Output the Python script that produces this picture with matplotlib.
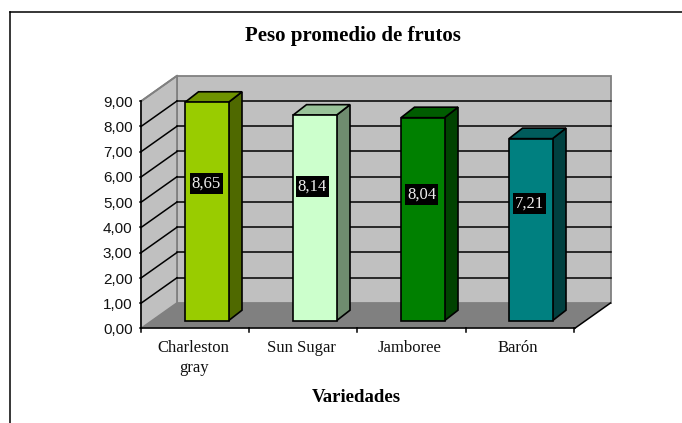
#!/usr/bin/env python3
# -*- coding: utf-8 -*-
"""
Peso promedio de frutos - fake 3D column chart, Excel style
"""

import matplotlib
matplotlib.use('Agg')
import matplotlib.pyplot as plt
from matplotlib.patches import Polygon, Rectangle

# Data
categories = ['Charleston\ngray', 'Sun Sugar', 'Jamboree', 'Barón']
values = [8.65, 8.14, 8.04, 7.21]
labels = ['8,65', '8,14', '8,04', '7,21']
front_colors = ['#99CC00', '#CCFFCC', '#008000', '#008080']
top_colors = ['#6E9200', '#99C299', '#005C00', '#005C5C']
side_colors = ['#4F6900', '#6F8C6F', '#004200', '#004040']
yticks = [0, 1, 2, 3, 4, 5, 6, 7, 8, 9]

W, H = 682, 423
plt.rcParams['font.family'] = ['Liberation Serif', 'DejaVu Serif']

fig = plt.figure(figsize=(W / 100, H / 100), dpi=100)
# Whole figure is one axes; x is pixels, y is in pixels from the top
ax = fig.add_axes([0, 0, 1, 1])
ax.set_xlim(0, W)
ax.set_ylim(H, 0)
ax.axis('off')

# Scale of the chart
x0, y0 = 141, 328.5      # front left corner of floor
unit = 25.25             # pixels for one unit of value
slot = 108.2             # pixels for one category
wall_w = 433.5
dx, dy = 36, -25.5       # depth of the box
bar_w = 43.5
bar_off = 44
bar_slot = 108
bar_dx, bar_dy = 13.5, -10.5
bar_y = 320.7
# Where Excel left the data labels (centre of the black box)
label_x = [206.5, 312.5, 421.6, 529.7]
label_y = [183.3, 186.5, 194.5, 203.5]
box_w, box_h = 33, 21


def val_y(v, base):
    return base - v * unit


# Frame of the chart area, open on the right and at the bottom
ax.plot([9.5, 9.5], [H, 12], color='black', lw=1.1, zorder=1)
ax.plot([9.5, W], [12, 12], color='black', lw=1.1, zorder=1)

top_v = max(yticks)
# Back wall, side wall, floor
ax.add_patch(Polygon([(x0 + dx, y0 + dy), (x0 + dx + wall_w, y0 + dy),
                      (x0 + dx + wall_w, val_y(top_v, y0 + dy)),
                      (x0 + dx, val_y(top_v, y0 + dy))],
                     fc='#C0C0C0', ec='#808080', lw=1.3, zorder=2))
ax.add_patch(Polygon([(x0, y0), (x0 + dx, y0 + dy),
                      (x0 + dx, val_y(top_v, y0 + dy)), (x0, val_y(top_v, y0))],
                     fc='#C0C0C0', ec='#808080', lw=1.3, zorder=2))
ax.add_patch(Polygon([(x0, y0), (x0 + wall_w, y0),
                      (x0 + wall_w + dx, y0 + dy), (x0 + dx, y0 + dy)],
                     fc='#808080', ec='none', zorder=3))

# Gridlines on the walls, last one is the top edge of the box
for t in yticks[1:-1]:
    yb = val_y(t, y0 + dy)
    ax.plot([x0, x0 + dx], [val_y(t, y0), yb], color='black', lw=1.1, zorder=3)
    ax.plot([x0 + dx, x0 + dx + wall_w], [yb, yb], color='black', lw=1.1, zorder=3)
ax.plot([x0, x0 + dx], [val_y(top_v, y0), val_y(top_v, y0 + dy)],
        color='#808080', lw=1.3, zorder=3)

# Axes lines and ticks
ax.plot([x0, x0], [y0, val_y(top_v, y0)], color='black', lw=1.1, zorder=4)
ax.plot([x0, x0 + wall_w], [y0, y0], color='black', lw=1.1, zorder=4)
ax.plot([x0 + wall_w, x0 + wall_w + dx], [y0, y0 + dy], color='black', lw=1.1, zorder=4)
for t in yticks:
    yt = val_y(t, y0)
    ax.plot([x0 - 1.5, x0], [yt, yt], color='black', lw=1.1, zorder=4)
    ax.text(x0 - 8.5, yt + 1.5, '%d,00' % t, ha='right', va='center', fontsize=11,
            family='Liberation Sans', color='#111111', zorder=6)
for i in range(len(categories) + 1):
    xt = x0 + i * slot
    ax.plot([xt, xt], [y0, y0 + 3.5], color='black', lw=1.1, zorder=4)

# Bars
for i, v in enumerate(values):
    xl = x0 + bar_off + i * bar_slot
    xr = xl + bar_w
    yt = val_y(v, bar_y)
    ax.add_patch(Polygon([(xr, bar_y), (xr + bar_dx, bar_y + bar_dy),
                          (xr + bar_dx, yt + bar_dy), (xr, yt)],
                         fc=side_colors[i], ec='black', lw=1.2, zorder=5))
    ax.add_patch(Polygon([(xl, yt), (xr, yt), (xr + bar_dx, yt + bar_dy),
                          (xl + bar_dx, yt + bar_dy)],
                         fc=top_colors[i], ec='black', lw=1.2, zorder=5))
    ax.add_patch(Rectangle((xl, yt), bar_w, bar_y - yt,
                           fc=front_colors[i], ec='black', lw=1.2, zorder=5))
    # Data label
    ax.add_patch(Rectangle((label_x[i] - box_w / 2, label_y[i] - box_h / 2), box_w, box_h,
                           fc='black', ec='none', zorder=6))
    ax.text(label_x[i], label_y[i], labels[i], color='#EEEEEE',
            ha='center', va='center', fontsize=12, zorder=7)
    # Category label
    ax.text(x0 + (i + 0.5) * slot - 1.5, y0 + 11, categories[i], ha='center', va='top',
            fontsize=12, linespacing=1.38, color='#111111', zorder=6)

# Titles
ax.text(352.5, 36.5, 'Peso promedio de frutos', ha='center', va='center',
        fontsize=15, fontweight='bold')
ax.text(356, 397, 'Variedades', ha='center', va='center',
        fontsize=13.5, fontweight='bold')

fig.savefig('out.png', dpi=100)
